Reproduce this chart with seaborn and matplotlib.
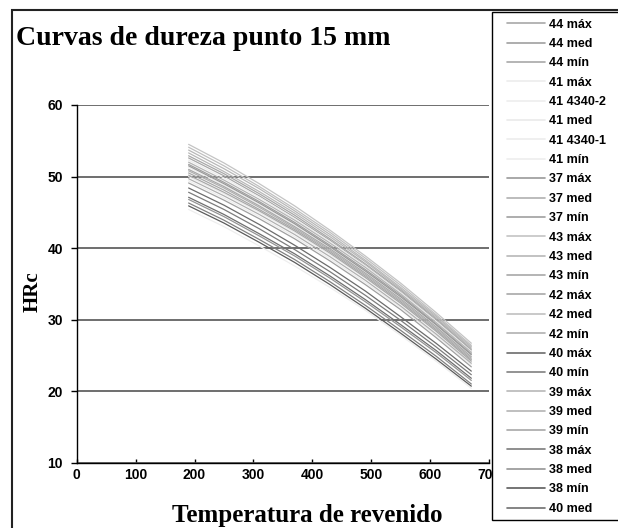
import matplotlib
matplotlib.use("Agg")
import matplotlib.pyplot as plt
import seaborn as sns
import pandas as pd
from matplotlib.lines import Line2D
from matplotlib.patches import Rectangle

# ---------------- data ----------------
temps = [190, 250, 310, 370, 430, 490, 550, 610, 670]

s43_max = [54.5, 51.9, 49.0, 45.9, 42.5, 38.9, 35.1, 31.0, 26.7]
s42_med = [54.1, 51.5, 48.6, 45.5, 42.2, 38.6, 34.8, 30.7, 26.4]
s39_max = [53.7, 51.1, 48.3, 45.2, 41.9, 38.3, 34.5, 30.5, 26.2]
s43_med = [53.3, 50.7, 47.9, 44.9, 41.6, 38.1, 34.3, 30.3, 26.0]
s42_max = [52.9, 50.4, 47.6, 44.6, 41.3, 37.8, 34.1, 30.1, 25.8]
s44_max = [52.6, 50.1, 47.3, 44.3, 41.1, 37.6, 33.9, 29.9, 25.6]
s41_max = [52.3, 49.8, 47.1, 44.1, 40.9, 37.5, 33.8, 29.8, 25.6]
s39_med = [52.0, 49.5, 46.8, 43.9, 40.7, 37.3, 33.6, 29.6, 25.4]
s44_med = [51.7, 49.2, 46.5, 43.6, 40.4, 37.0, 33.4, 29.4, 25.2]
s37_max = [51.5, 49.0, 46.3, 43.4, 40.2, 36.8, 33.2, 29.3, 25.1]
s41_4340_2 = [51.3, 48.8, 46.1, 43.2, 40.1, 36.7, 33.1, 29.2, 25.0]
s43_min = [51.0, 48.6, 45.9, 43.0, 39.9, 36.5, 32.9, 29.0, 24.8]
s42_min = [50.8, 48.4, 45.7, 42.8, 39.7, 36.3, 32.7, 28.8, 24.6]
s44_min = [50.5, 48.1, 45.4, 42.6, 39.5, 36.1, 32.5, 28.6, 24.4]
s39_min = [50.2, 47.8, 45.2, 42.4, 39.3, 35.9, 32.3, 28.4, 24.2]
s41_med = [50.0, 47.6, 45.0, 42.2, 39.1, 35.8, 32.2, 28.3, 24.1]
s37_med = [49.7, 47.3, 44.7, 41.9, 38.8, 35.5, 31.9, 28.0, 23.9]
s41_4340_1 = [49.4, 47.0, 44.4, 41.6, 38.5, 35.2, 31.7, 27.8, 23.7]
s37_min = [49.1, 46.7, 44.1, 41.3, 38.2, 34.9, 31.4, 27.5, 23.4]
s40_max = [48.4, 46.0, 43.3, 40.4, 37.3, 34.0, 30.4, 26.7, 22.8]
s38_max = [47.8, 45.4, 42.7, 39.8, 36.7, 33.4, 29.9, 26.2, 22.3]
s40_med = [47.1, 44.7, 42.0, 39.2, 36.1, 32.8, 29.3, 25.7, 21.8]
s38_med = [46.8, 44.4, 41.7, 38.9, 35.8, 32.5, 29.0, 25.4, 21.5]
s40_min = [46.3, 43.9, 41.2, 38.4, 35.3, 32.0, 28.5, 24.9, 21.0]
s38_min = [45.9, 43.5, 40.8, 38.0, 34.9, 31.6, 28.1, 24.5, 20.7]
s41_min = [45.4, 43.0, 40.3, 37.5, 34.5, 31.3, 27.8, 24.2, 20.4]

series_names = ["44 máx", "44 med", "44 mín", "41 máx", "41 4340-2", "41 med",
                "41 4340-1", "41 mín", "37 máx", "37 med", "37 mín", "43 máx",
                "43 med", "43 mín", "42 máx", "42 med", "42 mín", "40 máx",
                "40 mín", "39 máx", "39 med", "39 mín", "38 máx", "38 med",
                "38 mín", "40 med"]
series_values = [s44_max, s44_med, s44_min, s41_max, s41_4340_2, s41_med,
                 s41_4340_1, s41_min, s37_max, s37_med, s37_min, s43_max,
                 s43_med, s43_min, s42_max, s42_med, s42_min, s40_max,
                 s40_min, s39_max, s39_med, s39_min, s38_max, s38_med,
                 s38_min, s40_med]
series_colors = ["#a8a8a8", "#a0a0a0", "#a8a8a8", "#ececec", "#eeeeee", "#eaeaea",
                 "#ececec", "#eeeeee", "#999999", "#b0b0b0", "#a0a0a0", "#c4c4c4",
                 "#b8b8b8", "#a8a8a8", "#a8a8a8", "#c0c0c0", "#b0b0b0", "#6c6c6c",
                 "#808080", "#b8b8b8", "#b4b4b4", "#a8a8a8", "#7c7c7c", "#959595",
                 "#5c5c5c", "#707070"]

x_ticks = [0, 100, 200, 300, 400, 500, 600, 700]
y_ticks = [10, 20, 30, 40, 50, 60]

rows = []
for name, vals in zip(series_names, series_values):
    for t, v in zip(temps, vals):
        rows.append({"Temperatura": t, "HRc": v, "serie": name})
df = pd.DataFrame(rows)
palette = dict(zip(series_names, series_colors))

# ---------------- figure ----------------
sns.set_style("white")
plt.rcParams["font.family"] = ["Liberation Sans", "DejaVu Sans"]
plt.rcParams["text.color"] = "black"
plt.rcParams["xtick.color"] = "black"
plt.rcParams["ytick.color"] = "black"

W, H = 618, 528
fig = plt.figure(figsize=(W / 100, H / 100), dpi=100)
ax = fig.add_axes([76.7 / W, 1 - 462.7 / H, (489 - 76.7) / W, (462.7 - 105) / H])

sns.lineplot(data=df, x="Temperatura", y="HRc", hue="serie", hue_order=series_names,
             palette=palette, linewidth=0.9, legend=False, ax=ax, zorder=3)

ax.set_xlim(0, 700)
ax.set_ylim(10, 60)
ax.set_xticks(x_ticks)
ax.set_yticks(y_ticks)
ax.set_xlabel("")
ax.set_ylabel("")
ax.yaxis.grid(True, color="#555555", linewidth=1.2, zorder=1)
ax.xaxis.grid(False)
ax.set_axisbelow(True)
for s in ["top", "right"]:
    ax.spines[s].set_visible(False)
for s in ["left", "bottom"]:
    ax.spines[s].set_color("black")
    ax.spines[s].set_linewidth(1.0)
ax.tick_params(axis="y", direction="out", length=4, width=1, color="black", pad=6,
               left=True, labelcolor="black")
ax.tick_params(axis="x", direction="in", length=3, width=1, color="black", pad=4,
               bottom=True, labelcolor="black")
for lab in ax.get_xticklabels() + ax.get_yticklabels():
    lab.set_fontweight("bold")
    lab.set_fontsize(10)
    lab.set_fontfamily(["Liberation Sans", "DejaVu Sans"])

serif = ["Liberation Serif", "DejaVu Serif"]
fig.text(16 / W, 1 - 45 / H, "Curvas de dureza punto 15 mm", fontsize=20,
         fontweight="bold", family=serif, ha="left", va="baseline", color="black")
fig.text(307 / W, 1 - 522 / H, "Temperatura de revenido", fontsize=18,
         fontweight="bold", family=serif, ha="center", va="baseline", color="black")
fig.text(33 / W, 1 - 292 / H, "HRc", fontsize=15, fontweight="bold", family=serif,
         ha="center", va="center", rotation=90, color="black")

# outer chart border
fig.patches.append(Rectangle((12 / W, -0.1), 1.2, 1 - 10 / H + 0.1,
                             transform=fig.transFigure, fill=False,
                             edgecolor="#222222", linewidth=1.5, zorder=5))
# legend box
fig.patches.append(Rectangle((492 / W, 1 - 520 / H), 0.5, (520 - 12) / H,
                             transform=fig.transFigure, facecolor="white",
                             edgecolor="black", linewidth=1.0, zorder=6))

handles = [Line2D([0], [0], color=c, linewidth=1.2) for c in series_colors]
leg = fig.legend(handles, series_names, loc="upper left",
                 bbox_to_anchor=(507 / W, 1 - 18.5 / H), frameon=False,
                 borderpad=0, borderaxespad=0, handlelength=3.04, handletextpad=0.32,
                 labelspacing=0.59, prop={"weight": "bold", "size": 9,
                                          "family": ["Liberation Sans", "DejaVu Sans"]})
leg.set_zorder(7)
for t in leg.get_texts():
    t.set_color("black")

fig.savefig("out.png", dpi=100)
